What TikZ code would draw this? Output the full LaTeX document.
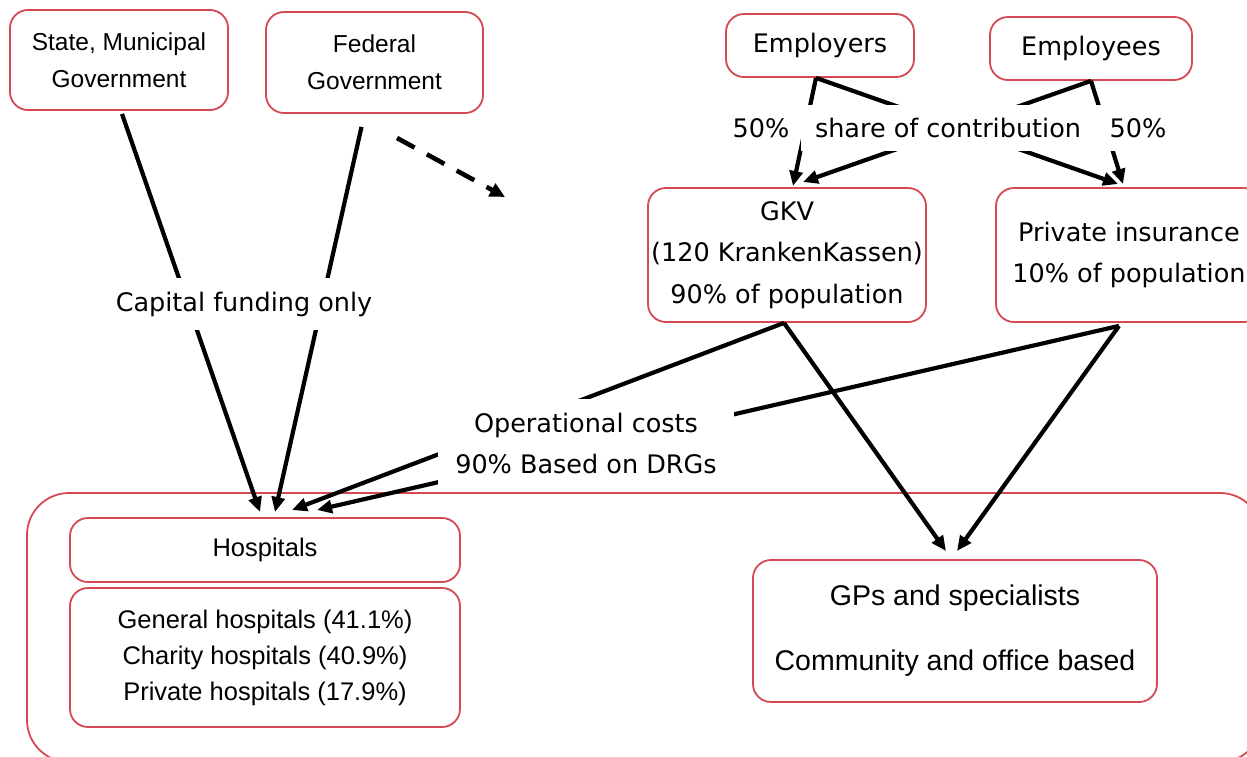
\documentclass[tikz,border=0pt]{standalone}
\usepackage{fontspec}
\setmainfont{Liberation Sans}
\newfontfamily\tah{DejaVu Sans}
\usetikzlibrary{arrows.meta}
\definecolor{boxred}{RGB}{214,72,84}
\newcommand\fA{\fontsize{24.5}{37}\selectfont}
\newcommand\fH{\fontsize{25.5}{36}\selectfont}
\newcommand\fG{\fontsize{28.5}{65}\selectfont}
\newcommand\fT{\tah\fontsize{25.5}{41.5}\selectfont}
\begin{document}
\begin{tikzpicture}[x=1pt,y=-1pt,
  box/.style={draw=boxred, line width=1.8pt, rounded corners=18pt, align=center, inner sep=0pt},
  ar/.style={draw, line width=4.2pt, -{Triangle[length=15pt,width=13pt]}},
  dar/.style={draw, line width=4.6pt, dash pattern=on 20pt off 14pt, -{Triangle[length=15pt,width=14pt]}},
  lab/.style={fill=white, align=center, font=\fT, inner ysep=0pt}
]
\useasboundingbox (0,0) rectangle (1247,756);
\clip (0,0) rectangle (1247,756);
% container
\node[box, rounded corners=42pt, minimum width=1235pt, minimum height=269pt] (area) at (644.5,627.5) {};
% boxes
\node[box, minimum width=218pt, minimum height=100pt, font=\fA] (state) at (119,60) {State, Municipal\\Government};
\node[box, minimum width=217pt, minimum height=101pt, font=\fA] (federal) at (374.5,62.5) {Federal\\Government};
\node[box, minimum width=188pt, minimum height=63pt, font=\fT] (employers) at (820,45.5) {Employers};
\node[box, minimum width=202pt, minimum height=63pt, font=\fT] (employees) at (1091,48.5) {Employees};
\node[box, minimum width=278pt, minimum height=134pt, font=\fT] (gkv) at (787,255) {GKV\\(120 KrankenKassen)\\90\% of population};
\node[box, minimum width=266pt, minimum height=134pt, font=\fT] (priv) at (1129,255) {Private insurance\\10\% of population};
\node[box, minimum width=390pt, minimum height=64pt, font=\fH] (hosp) at (265,550) {Hospitals};
\node[box, minimum width=390pt, minimum height=139pt, font=\fH] (types) at (265,657.5) {General hospitals (41.1\%)\\Charity hospitals (40.9\%)\\Private hospitals (17.9\%)};
\node[box, minimum width=404pt, minimum height=142pt, font=\fG] (gps) at (955,631) {GPs and specialists\\Community and office based};
% arrow tips
\coordinate (tEG) at (793,186);
\coordinate (tEP) at (1118,184);
\coordinate (tWG) at (803,182);
\coordinate (tWP) at (1123,184);
\coordinate (tS) at (260,512);
\coordinate (tF) at (275,512);
\coordinate (tG) at (292,510);
\coordinate (tP) at (317,510);
\coordinate (tGG) at (946,551);
\coordinate (tPG) at (957,551);
\coordinate (dashS) at (397,138);
\coordinate (dashE) at (505,197);
% connectors
\draw[ar] ([xshift=-4pt]employers.south) -- (tEG);
\draw[ar] ([xshift=-4pt]employers.south) -- (tEP);
\draw[ar] (employees.south) -- (tWG);
\draw[ar] (employees.south) -- (tWP);
\draw[ar] ([xshift=3pt,yshift=-3pt]state.south) -- (tS);
\draw[ar] ([xshift=-13pt,yshift=-13pt]federal.south) -- (tF);
\draw[ar] ([xshift=-3pt]gkv.south) -- (tG);
\draw[ar] ([xshift=-10pt,yshift=-3pt]priv.south) -- (tP);
\draw[ar] ([xshift=-3pt]gkv.south) -- (tGG);
\draw[ar] ([xshift=-10pt,yshift=-3pt]priv.south) -- (tPG);
\draw[dar] (dashS) -- (dashE);
% labels
\node[lab, minimum height=46pt, inner xsep=14pt] (share) at (948,128) {share of contribution};
\node[lab, minimum height=46pt, inner xsep=4pt] (pl) at (761,128) {50\%};
\node[lab, minimum height=46pt, inner xsep=25pt] (pr) at (1138,128) {50\%};
\node[lab, minimum height=52pt, inner xsep=4pt] (capital) at (244,304) {Capital funding only};
\node[lab, minimum height=90pt, inner xsep=17pt] (oper) at (586,443.5) {Operational costs\\90\% Based on DRGs};
\end{tikzpicture}
\end{document}
